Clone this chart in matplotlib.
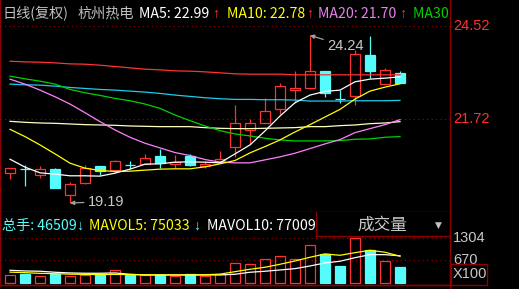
import numpy as np
import matplotlib.pyplot as plt
from matplotlib.patches import Rectangle
from matplotlib.lines import Line2D
from matplotlib.transforms import blended_transform_factory

# 日线 数据 (从图上读出来的, 估计值)
opens = [20.10, 20.21, 20.04, 20.22, 19.42, 19.80, 20.31, 20.17, 20.35, 20.37,
         20.61, 20.36, 20.61, 20.30, 20.47, 20.87, 21.39, 21.61, 22.01, 22.59,
         22.64, 23.17, 22.32, 22.42, 23.65, 22.77, 23.11]
highs = [20.25, 20.34, 20.31, 20.25, 19.83, 20.34, 20.31, 20.49, 20.46, 20.68,
         20.81, 20.64, 20.67, 20.46, 20.76, 22.14, 21.71, 22.34, 22.81, 23.17,
         24.24, 23.17, 22.59, 23.80, 24.22, 23.27, 23.17]
lows = [19.90, 19.71, 19.94, 19.65, 19.19, 19.76, 20.04, 20.09, 20.22, 20.37,
        20.25, 20.25, 20.31, 20.24, 20.42, 20.59, 20.97, 21.61, 21.87, 22.21,
        22.62, 22.39, 22.19, 22.14, 22.95, 22.77, 22.81]
closes = [20.25, 20.20, 20.21, 19.65, 19.76, 20.24, 20.16, 20.46, 20.34, 20.55,
          20.39, 20.42, 20.35, 20.38, 20.52, 21.59, 21.59, 21.96, 22.71, 22.64,
          23.17, 22.51, 22.31, 23.68, 23.18, 23.20, 22.81]
volume = [239, 277, 210, 259, 210, 239, 239, 383, 239, 230,
          239, 210, 268, 210, 268, 576, 548, 692, 787, 692,
          1104, 853, 507, 1304, 960, 643, 465]

ma5 = [20.51, 20.27, 20.10, 20.06, 20.01, 20.01, 20.00, 20.09, 20.21, 20.36,
       20.37, 20.42, 20.43, 20.42, 20.40, 20.67, 20.94, 21.36, 21.81, 22.21,
       22.44, 22.55, 22.59, 22.84, 22.92, 22.95, 22.99]
ma10 = [21.41, 21.19, 20.94, 20.67, 20.39, 20.24, 20.17, 20.14, 20.15, 20.18,
        20.21, 20.22, 20.22, 20.28, 20.37, 20.47, 20.70, 20.89, 21.09, 21.33,
        21.55, 21.78, 22.01, 22.32, 22.56, 22.68, 22.78]
ma20 = [22.92, 22.77, 22.59, 22.39, 22.17, 21.91, 21.64, 21.39, 21.17, 20.99,
        20.85, 20.71, 20.62, 20.50, 20.42, 20.40, 20.40, 20.49, 20.58, 20.69,
        20.83, 20.97, 21.10, 21.31, 21.43, 21.55, 21.70]
ma30 = [23.01, 22.93, 22.86, 22.77, 22.61, 22.51, 22.43, 22.34, 22.27, 22.17,
        22.04, 21.84, 21.67, 21.51, 21.37, 21.27, 21.21, 21.14, 21.09, 21.06,
        21.06, 21.06, 21.07, 21.11, 21.12, 21.17, 21.19]
ma60 = [21.65, 21.62, 21.60, 21.59, 21.57, 21.55, 21.54, 21.53, 21.51, 21.50,
        21.49, 21.49, 21.49, 21.46, 21.44, 21.43, 21.43, 21.44, 21.45, 21.46,
        21.49, 21.49, 21.52, 21.54, 21.58, 21.60, 21.64]
ma120 = [22.77, 22.75, 22.74, 22.71, 22.67, 22.64, 22.61, 22.59, 22.56, 22.53,
         22.49, 22.44, 22.40, 22.36, 22.33, 22.31, 22.31, 22.30, 22.30, 22.29,
         22.26, 22.26, 22.26, 22.27, 22.27, 22.27, 22.28]
ma250 = [23.46, 23.44, 23.43, 23.41, 23.38, 23.37, 23.34, 23.30, 23.26, 23.22,
         23.20, 23.17, 23.16, 23.14, 23.11, 23.08, 23.07, 23.07, 23.07, 23.05,
         23.05, 23.05, 23.05, 23.05, 23.05, 23.05, 23.05]
mavol5 = [320, 305, 285, 276, 262, 255, 250, 255, 250, 245,
          242, 240, 240, 245, 262, 334, 403, 461, 547, 642,
          749, 844, 806, 881, 950, 893, 780]
mavol10 = [374, 354, 346, 317, 297, 288, 288, 297, 259, 239,
           239, 239, 239, 239, 239, 259, 317, 346, 383, 421,
           498, 585, 634, 737, 824, 824, 790]

price_ticks = [24.52, 21.72]
vol_ticks = [1304, 670]
ma_names = ['MA5', 'MA10', 'MA20', 'MA30']
ma_header = [22.99, 22.78, 21.70, 21.19]
total_hands = 46509
mavol5_last = 75033
mavol10_last = 77009

RED = '#FF3232'
CYAN = '#54FCFC'
BORDER = '#8c0000'
CJK = ['Noto Sans CJK SC', 'DejaVu Sans']
ARROWF = ['Liberation Sans', 'DejaVu Sans']

W, H = 519, 289
fig = plt.figure(figsize=(W / 100, H / 100), dpi=100, facecolor='black')


def px_axes(x0, y0, x1, y1):
    return fig.add_axes([x0 / W, 1 - y1 / H, (x1 - x0) / W, (y1 - y0) / H])


def fig_line(x0, y0, x1, y1, **kw):
    fig.add_artist(Line2D([x0 / W, x1 / W], [1 - y0 / H, 1 - y1 / H],
                          transform=fig.transFigure, color=BORDER, lw=1, **kw))


ax = px_axes(0, 0, 450, 211.5)
axv = px_axes(0, 211.5, 450, 284.5)
n = len(opens)
x = np.arange(n)

# 像素对应关系: 24.52 在 y=26, 21.72 在 y=119
k = (price_ticks[0] - price_ticks[1]) / 93.0
kv = (vol_ticks[0] - vol_ticks[1]) / 22.0
for a in (ax, axv):
    a.set_facecolor('black')
    a.set_xlim(-10 / 15, 440 / 15)
    a.set_xticks([])
    a.set_yticks([])
    for s in a.spines.values():
        s.set_color(BORDER)
        s.set_linewidth(1)
    a.spines['top'].set_visible(False)
    a.spines['right'].set_visible(False)
ax.set_ylim(price_ticks[0] - (211.5 - 26) * k, price_ticks[0] + 26 * k)
axv.set_ylim(vol_ticks[1] - (284.5 - 260) * kv, vol_ticks[0] + (238 - 211.5) * kv)

for p in price_ticks:
    ax.axhline(p, color='#a00000', ls=(0, (1, 3)), lw=0.8)
for v in vol_ticks:
    axv.axhline(v, color='#a00000', ls=(0, (1, 3)), lw=0.8)

# K线
w = 0.73
for i in range(n):
    o, h, l, c = opens[i], highs[i], lows[i], closes[i]
    up = c > o
    col = RED if up else CYAN
    top, bot = max(o, c), min(o, c)
    ax.vlines(i, top, h, color=col, lw=0.9, zorder=2)
    ax.vlines(i, l, bot, color=col, lw=0.9, zorder=2)
    ax.add_patch(Rectangle((i - w / 2, bot), w, max(top - bot, 0.005),
                           facecolor='none' if up else col, edgecolor=col,
                           lw=0.9, zorder=2))
    axv.add_patch(Rectangle((i - w / 2, 0), w, volume[i],
                            facecolor='none' if up else col, edgecolor=col,
                            lw=0.9, zorder=2))

ax.plot(x, ma250, color='#FF3232', lw=0.9, zorder=3)
ax.plot(x, ma120, color='#1ECBEB', lw=0.9, zorder=3)
ax.plot(x, ma60, color='#FFFFC0', lw=0.9, zorder=3)
ax.plot(x, ma30, color='#00D200', lw=0.9, zorder=3)
ax.plot(x, ma20, color='#FF80FF', lw=0.9, zorder=3)
ax.plot(x, ma10, color='#FFFF00', lw=0.9, zorder=3)
ax.plot(x, ma5, color='#FFFFFF', lw=0.9, zorder=3)
axv.plot(x, mavol10, color='#FFFFFF', lw=0.9, zorder=3)
axv.plot(x, mavol5, color='#FFFF00', lw=0.9, zorder=3)

# 最高 / 最低 标注
ih = int(np.argmax(highs))
il = int(np.argmin(lows))
ax.annotate(f'{highs[ih]:.2f}', xy=(ih, highs[ih]), xytext=(12.5, -8),
            textcoords='offset points', ha='left', va='center',
            color='#C8C8C8', fontsize=10.5, family='Liberation Sans',
            arrowprops=dict(arrowstyle='-|>', color='#A0A0A0', lw=0.9,
                            mutation_scale=6, shrinkA=1, shrinkB=0))
ax.annotate(f'{lows[il]:.2f}', xy=(il, lows[il]), xytext=(13, 1),
            textcoords='offset points', ha='left', va='center',
            color='#C8C8C8', fontsize=10.5, family='Liberation Sans',
            arrowprops=dict(arrowstyle='-|>', color='#A0A0A0', lw=0.9,
                            mutation_scale=6, shrinkA=1, shrinkB=0))

# 顶部标题
ma_cols = ['#FFFFFF', '#FFFF00', '#E880F0', '#00D200']
ma_x = [139.3, 226.7, 318.3, 412.7]
arrow_x = [212.5, 306, 399.5, 500]
head = [('日线(复权)', 2.7, '#C0C0C0', CJK), ('杭州热电', 77.7, '#C0C0C0', CJK)]
for name, val, col, xp, xa in zip(ma_names, ma_header, ma_cols, ma_x, arrow_x):
    head.append((f'{name}: {val:.2f}', xp, col, CJK))
    head.append(('↑', xa, RED, ARROWF))
for t, xp, col, fam in head:
    ax.text(xp / 450, 1 - 13.5 / 211.5, t, transform=ax.transAxes,
            ha='left', va='center', color=col, fontsize=10.2, family=fam,
            clip_on=True)

axh = px_axes(0, 212, 316, 236)
axh.axis('off')
vhead = [(f'总手: {total_hands}', 1.7, CYAN, CJK), ('↓', 76.5, CYAN, ARROWF),
         (f'MAVOL5: {mavol5_last}', 89.3, '#FFFF00', CJK),
         ('↓', 193.5, CYAN, ARROWF),
         (f'MAVOL10: {mavol10_last}', 206.7, '#FFFFFF', CJK)]
for t, xp, col, fam in vhead:
    axh.text(xp / 316, 0.42, t, transform=axh.transAxes, ha='left',
             va='center', color=col, fontsize=10.2, family=fam, clip_on=True)

# 右侧刻度
tr = blended_transform_factory(ax.transAxes, ax.transData)
for p in price_ticks:
    ax.text(453 / 450, p, f'{p:.2f}', transform=tr, ha='left', va='center',
            color=RED, fontsize=10.5, family='Liberation Sans', clip_on=False)
trv = blended_transform_factory(axv.transAxes, axv.transData)
for v in vol_ticks:
    axv.text(453 / 450, v, f'{v}', transform=trv, ha='left', va='center',
             color='#C8C8C8', fontsize=10.5, family='Liberation Sans',
             clip_on=False)
fig.text(453 / W, 1 - 274 / H, 'X100', ha='left', va='center',
         color='#C8C8C8', fontsize=10.5, family='Liberation Sans')
fig.add_artist(Rectangle((451 / W, 1 - 284.5 / H), 36 / W, 20.5 / H,
                         transform=fig.transFigure, facecolor='none',
                         edgecolor=BORDER, lw=1))

# 成交量 框
fig.text(382 / W, 1 - 225 / H, '成交量', ha='center', va='center',
         color='#C8C8C8', fontsize=12, family=CJK)
fig.text(438 / W, 1 - 225.5 / H, '▼', ha='center', va='center',
         color='#C0C0C0', fontsize=6.5, family='DejaVu Sans')
fig_line(316, 211.5, 316, 236)
fig_line(316, 236, 450, 236)
fig_line(450, 0, 450, 289)
fig_line(0, 284.5, 450, 284.5)

fig.savefig('out.png', dpi=100, facecolor='black')
